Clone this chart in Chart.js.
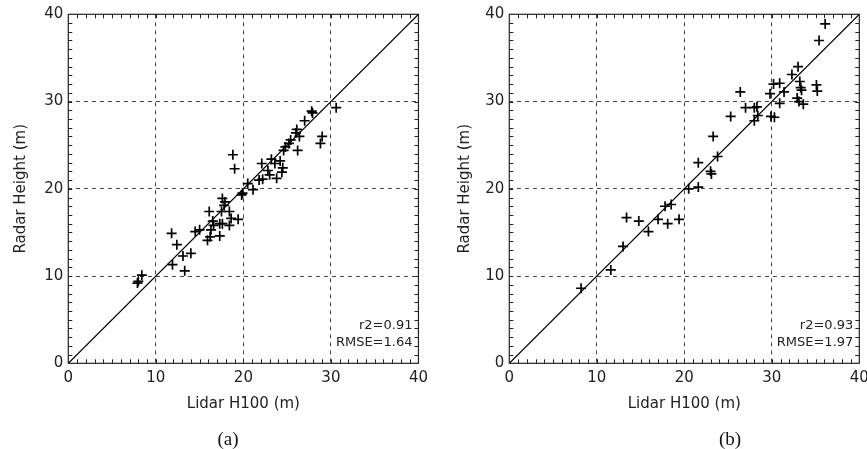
<!DOCTYPE html>
<html>
<head>
<meta charset="utf-8">
<script src="https://cdn.jsdelivr.net/npm/chart.js@4.4.1/dist/chart.umd.min.js"></script>
<style>
  html, body { margin: 0; padding: 0; background: #fff; overflow: hidden; width: 867px; height: 449px; }
  canvas { position: absolute; top: 0; }
  #chartA { left: 0; }
  #chartB { left: 444px; }
  .cap { position: absolute; top: 428px; font: 19px "Liberation Serif", "Times New Roman", serif; color: #111; transform: translateX(-50%); }
</style>
</head>
<body>
<canvas id="chartA" width="434" height="449"></canvas>
<canvas id="chartB" width="437" height="449"></canvas>
<div class="cap" style="left:228px">(a)</div>
<div class="cap" style="left:730px">(b)</div>
<script>
// panel (a)
const lidarA = [7.9, 8.0, 8.4, 11.8, 11.9, 12.4, 13.1, 13.3, 14.0, 14.5, 15.0, 16.1, 15.9, 16.2, 16.3, 16.5, 16.6,
  17.3, 17.3, 17.5, 17.6, 17.8, 17.9, 17.6, 18.4, 18.4, 18.6, 18.8, 19.0, 19.4, 19.8, 19.9, 20.5, 21.1, 21.8, 22.1, 22.2,
  22.8, 23.0, 23.2, 23.6, 23.8, 24.2, 24.5, 24.4, 24.6, 24.8, 25.2, 25.4, 26.0, 26.1, 26.2, 26.4, 27.0, 27.8, 27.9,
  28.8, 29.0, 30.6];
const radarA = [9.2, 9.4, 10.1, 14.9, 11.3, 13.6, 12.3, 10.6, 12.6, 15.1, 15.3, 17.4, 14.1, 14.5, 15.3, 16.3, 15.8,
  14.6, 16.0, 17.4, 18.9, 18.1, 18.5, 16.0, 17.4, 15.8, 16.6, 23.9, 22.3, 16.5, 19.3, 19.5, 20.6, 19.9, 21.0, 22.9, 21.1,
  22.1, 21.6, 23.4, 22.9, 21.2, 23.2, 22.4, 21.9, 24.4, 24.8, 25.2, 25.6, 26.4, 26.8, 24.4, 26.0, 27.8, 28.9, 28.7,
  25.2, 26.0, 29.3];

// panel (b)
const lidarB = [8.2, 11.6, 13.0, 13.4, 14.8, 15.9, 17.0, 17.8, 18.1, 18.5, 19.4, 20.5, 21.6, 21.6, 23.0, 23.1, 23.3,
  23.8, 25.3, 26.4, 27.0, 28.0, 28.3, 28.0, 28.4, 29.8, 30.2, 30.9, 29.9, 30.3, 30.9, 31.4, 32.3, 33.0, 33.2, 33.3,
  33.4, 32.9, 33.1, 33.6, 35.1, 35.2, 35.4, 36.1];
const radarB = [8.6, 10.7, 13.4, 16.7, 16.3, 15.1, 16.5, 18.0, 16.0, 18.2, 16.5, 20.0, 20.2, 23.0, 22.0, 21.7, 26.0,
  23.7, 28.3, 31.1, 29.3, 29.3, 29.4, 27.8, 28.4, 30.9, 32.0, 32.1, 28.3, 28.2, 29.8, 31.1, 33.1, 34.0, 32.3, 31.6,
  31.3, 30.4, 30.0, 29.7, 31.9, 31.2, 37.0, 38.9];

const statsA = ['r2=0.91', 'RMSE=1.64'];
const statsB = ['r2=0.93', 'RMSE=1.97'];

// 1:1 reference line
const identity = [0, 40];

const axisMin = 0, axisMax = 40, majorStep = 10, minorStep = 1;

const inkFont = '"DejaVu Sans", sans-serif';

// box around the plot, inward minor ticks and the fit statistics
const framePlugin = {
  id: 'frame',
  afterDraw(chart, args, opts) {
    const { ctx, chartArea: a, scales: { x, y } } = chart;
    ctx.save();
    ctx.strokeStyle = '#222';
    ctx.lineWidth = 1;
    ctx.beginPath();
    for (let v = axisMin + minorStep; v < axisMax; v += minorStep) {
      const px = Math.round(x.getPixelForValue(v)) + 0.5;
      const py = Math.round(y.getPixelForValue(v)) + 0.5;
      ctx.moveTo(px, a.bottom); ctx.lineTo(px, a.bottom - 4);
      ctx.moveTo(px, a.top); ctx.lineTo(px, a.top + 4);
      ctx.moveTo(a.left, py); ctx.lineTo(a.left + 4, py);
      ctx.moveTo(a.right, py); ctx.lineTo(a.right - 4, py);
    }
    ctx.stroke();
    ctx.lineWidth = 1.2;
    ctx.strokeRect(a.left, a.top, a.right - a.left, a.bottom - a.top);

    ctx.fillStyle = '#222';
    ctx.font = '13px ' + inkFont;
    ctx.textAlign = 'right';
    ctx.textBaseline = 'middle';
    ctx.fillText(opts.lines[0], a.right - 6, a.bottom - 38);
    ctx.fillText(opts.lines[1], a.right - 6, a.bottom - 21);
    ctx.restore();
  }
};

function makePanel(id, lidar, radar, stats, yWidth, padRight) {
  const pts = lidar.map((v, i) => ({ x: v, y: radar[i] }));
  const gridColor = c => (c.tick.value === axisMin || c.tick.value === axisMax) ? 'rgba(0,0,0,0)' : '#444';
  return new Chart(document.getElementById(id), {
    type: 'scatter',
    data: {
      datasets: [{
        type: 'line',
        data: identity.map(v => ({ x: v, y: v })),
        borderColor: '#000',
        borderWidth: 1.2,
        pointRadius: 0,
        fill: false
      }, {
        data: pts,
        pointStyle: 'cross',
        pointRadius: 5,
        pointBorderWidth: 1.7,
        borderColor: '#000',
        backgroundColor: '#000'
      }]
    },
    options: {
      responsive: false,
      animation: false,
      layout: { padding: { top: 14.3, right: padRight, bottom: 0, left: 0 } },
      plugins: {
        legend: { display: false },
        tooltip: { enabled: false },
        frame: { lines: stats }
      },
      scales: {
        x: {
          min: axisMin, max: axisMax,
          afterFit: s => { s.height = 85.7; },
          ticks: { stepSize: majorStep, padding: 6, color: '#222', font: { family: inkFont, size: 15 } },
          grid: { color: gridColor, drawTicks: false },
          border: { display: false, dash: [4, 4] },
          title: { display: true, text: 'Lidar H100 (m)', color: '#222', font: { family: inkFont, size: 15 }, padding: { top: 0, bottom: 36 } }
        },
        y: {
          min: axisMin, max: axisMax,
          afterFit: s => { s.width = yWidth; },
          ticks: { stepSize: majorStep, padding: 5, color: '#222', font: { family: inkFont, size: 15 } },
          grid: { color: gridColor, drawTicks: false },
          border: { display: false, dash: [4, 4] },
          title: { display: true, text: 'Radar Height (m)', color: '#222', font: { family: inkFont, size: 15 }, padding: { top: 12, bottom: 0 } }
        }
      }
    },
    plugins: [framePlugin]
  });
}

makePanel('chartA', lidarA, radarA, statsA, 68.3, 14.7);
makePanel('chartB', lidarB, radarB, statsB, 65.3, 21.7);
</script>
</body>
</html>
